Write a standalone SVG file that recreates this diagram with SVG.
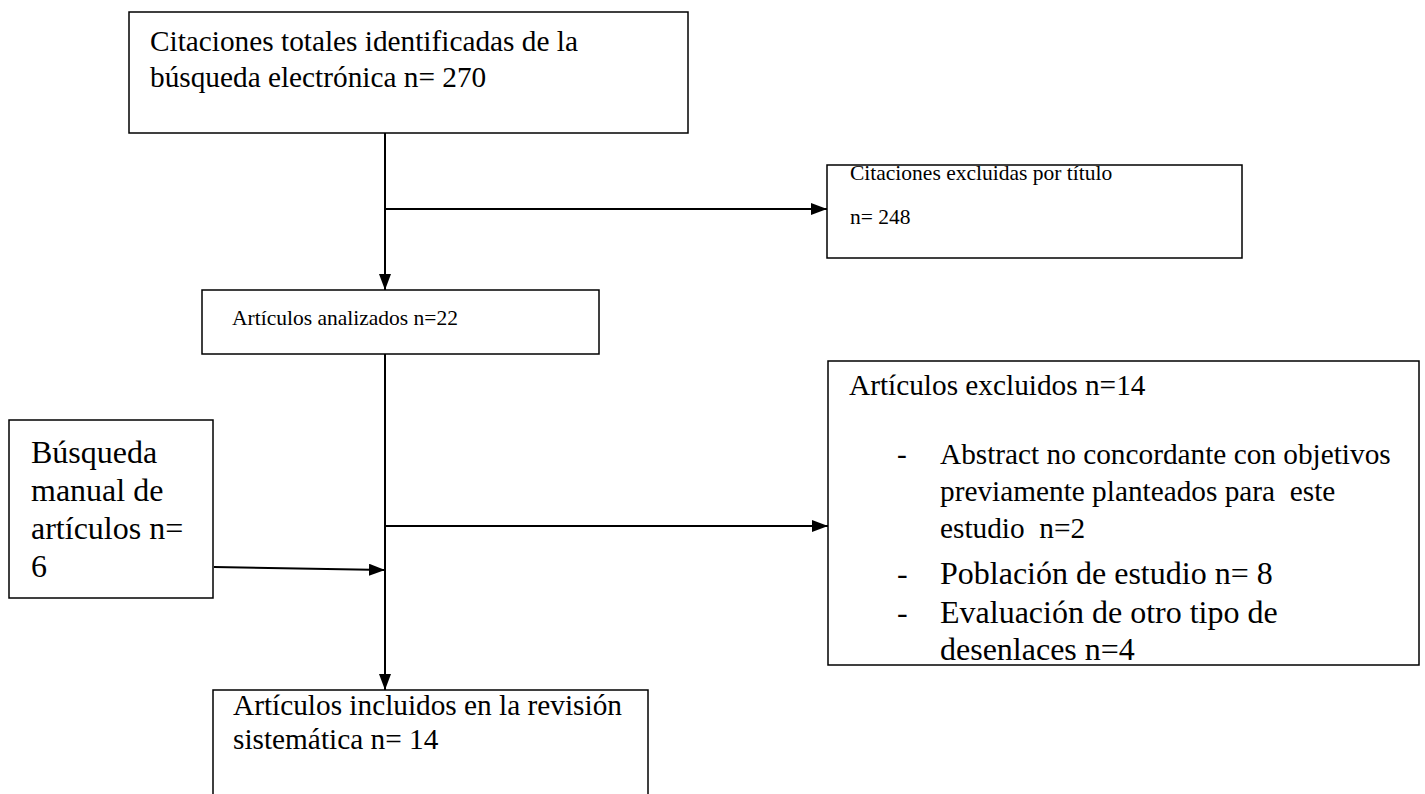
<svg xmlns="http://www.w3.org/2000/svg" width="1425" height="794" viewBox="0 0 1425 794">
<style>
.box{fill:#fff;stroke:#000;stroke-width:1.5}
.ts{font-family:"Liberation Serif","Times New Roman",serif;font-size:21.5px;fill:#000}
.t{font-family:"Liberation Serif","Times New Roman",serif;font-size:29.3px;fill:#000;white-space:pre}
.tl{font-family:"Liberation Serif","Times New Roman",serif;font-size:32px;fill:#000}
.c{stroke:#000;stroke-width:2;fill:none}
</style>
<defs>
<marker id="ah" markerWidth="16" markerHeight="12" refX="16" refY="6" orient="auto" markerUnits="userSpaceOnUse">
<path d="M0,0 L16,6 L0,12 Z" fill="#000"/>
</marker>
</defs>
<rect width="1425" height="794" fill="#fff"/>
<g id="connectors">
<line class="c" x1="385" y1="133" x2="385" y2="290" marker-end="url(#ah)"/>
<line class="c" x1="385" y1="209" x2="827" y2="209" marker-end="url(#ah)"/>
<line class="c" x1="385" y1="354" x2="385" y2="690" marker-end="url(#ah)"/>
<line class="c" x1="385" y1="526" x2="828" y2="526" marker-end="url(#ah)"/>
<line class="c" x1="214" y1="567" x2="385" y2="570" marker-end="url(#ah)"/>
</g>
<g id="n1">
<rect class="box" x="129" y="12" width="559" height="121"/>
<text class="t" x="150" y="51">Citaciones totales identificadas de la</text>
<text class="t" x="150" y="87">búsqueda electrónica n= 270</text>
</g>
<g id="n2">
<rect class="box" x="827" y="165" width="415" height="93"/>
<text class="ts" x="850" y="180">Citaciones excluidas por título</text>
<text class="ts" x="850" y="224">n= 248</text>
</g>
<g id="n3">
<rect class="box" x="202" y="290" width="397" height="64"/>
<text class="ts" x="232" y="325">Artículos analizados n=22</text>
</g>
<g id="n4">
<rect class="box" x="9" y="420" width="204" height="178"/>
<text class="tl" x="31" y="463">Búsqueda</text>
<text class="tl" x="31" y="501">manual de</text>
<text class="tl" x="31" y="539">artículos n=</text>
<text class="tl" x="31" y="577">6</text>
</g>
<g id="n5">
<rect class="box" x="828" y="361" width="591" height="304"/>
<text class="t" x="849" y="395">Artículos excluidos n=14</text>
<text class="t" x="897" y="464">-</text>
<text class="t" x="940" y="464">Abstract no concordante con objetivos</text>
<text class="t" x="940" y="501">previamente planteados para  este</text>
<text class="t" x="940" y="538">estudio  n=2</text>
<text class="tl" x="897" y="584">-</text>
<text class="tl" x="940" y="584">Población de estudio n= 8</text>
<text class="tl" x="897" y="623">-</text>
<text class="tl" x="940" y="623">Evaluación de otro tipo de</text>
<text class="tl" x="940" y="660">desenlaces n=4</text>
</g>
<g id="n6">
<rect class="box" x="213" y="690" width="435" height="110"/>
<text class="t" x="233" y="715">Artículos incluidos en la revisión</text>
<text class="t" x="233" y="749">sistemática n= 14</text>
</g>
</svg>
